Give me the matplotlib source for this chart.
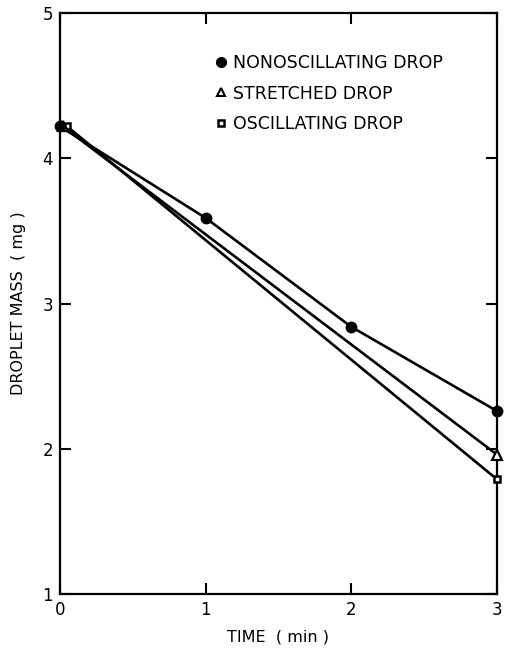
import matplotlib
matplotlib.use("Agg")
import matplotlib.pyplot as plt
from matplotlib.lines import Line2D

# data
time_non = [0.0, 1.0, 2.0, 3.0]
mass_non = [4.22, 3.59, 2.84, 2.26]
time_str = [0.02, 3.0]
mass_str = [4.22, 1.96]
time_osc = [0.05, 3.0]
mass_osc = [4.22, 1.79]

series_labels = ["NONOSCILLATING DROP", "STRETCHED DROP", "OSCILLATING DROP"]
x_ticks = [0, 1, 2, 3]
y_ticks = [1, 2, 3, 4, 5]

plt.rcParams['font.family'] = ['DejaVu Sans']

fig = plt.figure(figsize=(5.07, 6.57), dpi=100)
ax = fig.add_axes([0.118, 0.096, 0.862, 0.884])

lw = 1.9
ax.plot(time_osc, mass_osc, color="black", lw=lw, zorder=2)
ax.plot(time_str, mass_str, color="black", lw=lw, zorder=2)
ax.plot(time_non, mass_non, color="black", lw=lw, zorder=2)

ax.plot(time_osc, mass_osc, ls="none", marker="s", ms=5, mfc="white",
        mec="black", mew=1.8, zorder=3, clip_on=False)
ax.plot(time_str, mass_str, ls="none", marker="^", ms=6.5, mfc="white",
        mec="black", mew=1.6, zorder=3, clip_on=False)
ax.plot(time_non, mass_non, ls="none", marker="o", ms=7.5, color="black",
        zorder=4, clip_on=False)

ax.set_xlim(0, 3)
ax.set_ylim(1, 5)
ax.set_xticks(x_ticks)
ax.set_yticks(y_ticks)
ax.tick_params(direction="in", length=8, width=1.5, top=True, right=True,
               labelsize=12, pad=5)
for s in ax.spines.values():
    s.set_linewidth(1.6)

ax.set_xlabel("TIME  ( min )", fontsize=11.5, labelpad=8)
ax.set_ylabel("DROPLET MASS  ( mg )", fontsize=11.5, labelpad=12)

handles = [
    Line2D([], [], ls="none", marker="o", ms=7, color="black"),
    Line2D([], [], ls="none", marker="^", ms=5.5, mfc="white", mec="black", mew=1.5),
    Line2D([], [], ls="none", marker="s", ms=5, mfc="white", mec="black", mew=1.8),
]
ax.legend(handles, series_labels, loc="upper left",
          bbox_to_anchor=(0.338, 0.941), frameon=False, fontsize=12.5,
          handletextpad=0.25, labelspacing=0.7, borderaxespad=0,
          handlelength=0.8)

plt.savefig("out.png", dpi=100)
